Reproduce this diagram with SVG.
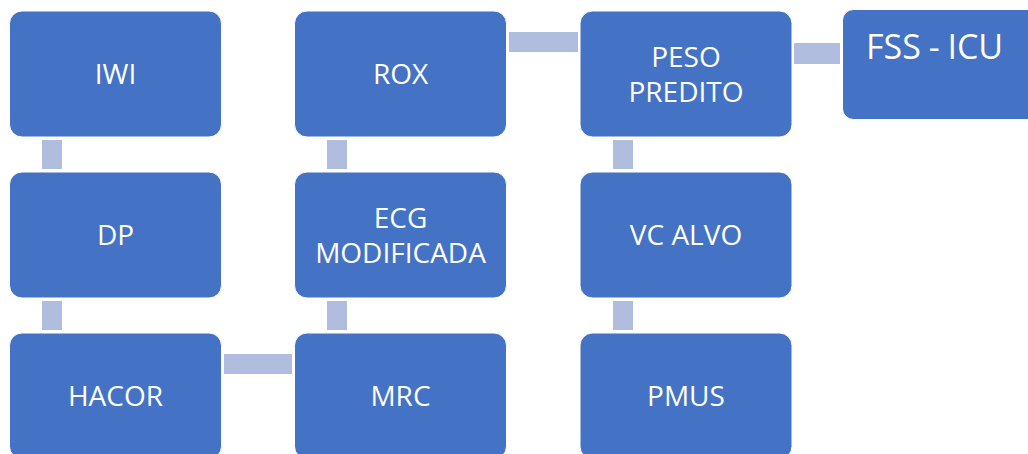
<svg xmlns="http://www.w3.org/2000/svg" width="1028" height="454" viewBox="0 0 1028 454">
<style>
.box{fill:#4472C4;stroke:#FFFFFF;stroke-width:1}
.con{fill:#B0BDDF}
.t{fill:#FFFFFF;font-family:"Open Sans","Noto Sans","DejaVu Sans",sans-serif;font-size:28px;text-anchor:middle}
.big{font-size:34px;text-anchor:start;word-spacing:-1px}
</style>
<rect width="1028" height="454" fill="#FFFFFF"/>
<g id="connectors">
<rect class="con" x="42" y="140" width="20" height="29"/>
<rect class="con" x="42" y="301" width="20" height="29"/>
<rect class="con" x="224" y="354" width="68" height="20"/>
<rect class="con" x="327" y="301" width="20" height="29"/>
<rect class="con" x="327" y="140" width="20" height="29"/>
<rect class="con" x="509" y="32" width="69" height="20"/>
<rect class="con" x="613" y="140" width="20" height="29"/>
<rect class="con" x="613" y="301" width="20" height="29"/>
<rect class="con" x="794" y="43" width="46" height="21"/>
</g>
<g id="iwi"><rect class="box" x="9.5" y="11" width="212" height="126" rx="12.6"/><text class="t" x="115.5" y="84">IWI</text></g>
<g id="dp"><rect class="box" x="9.5" y="172" width="212" height="126" rx="12.6"/><text class="t" x="115.5" y="245">DP</text></g>
<g id="hacor"><rect class="box" x="9.5" y="333" width="212" height="126" rx="12.6"/><text class="t" x="115.5" y="406">HACOR</text></g>
<g id="rox"><rect class="box" x="294.5" y="11" width="212" height="126" rx="12.6"/><text class="t" x="400.5" y="84">ROX</text></g>
<g id="ecg"><rect class="box" x="294.5" y="172" width="212" height="126" rx="12.6"/><text class="t" x="400.5" y="227.5">ECG</text><text class="t" x="400.5" y="262.5">MODIFICADA</text></g>
<g id="mrc"><rect class="box" x="294.5" y="333" width="212" height="126" rx="12.6"/><text class="t" x="400.5" y="406">MRC</text></g>
<g id="peso"><rect class="box" x="580" y="11" width="212" height="126" rx="12.6"/><text class="t" x="686" y="66.5">PESO</text><text class="t" x="686" y="101.5">PREDITO</text></g>
<g id="vc"><rect class="box" x="580" y="172" width="212" height="126" rx="12.6"/><text class="t" x="686" y="245">VC ALVO</text></g>
<g id="pmus"><rect class="box" x="580" y="333" width="212" height="126" rx="12.6"/><text class="t" x="686" y="406">PMUS</text></g>
<g id="fss"><rect class="box" x="842.5" y="9.5" width="220" height="110" rx="11"/><text class="t big" x="866" y="59">FSS - ICU</text></g>
</svg>
